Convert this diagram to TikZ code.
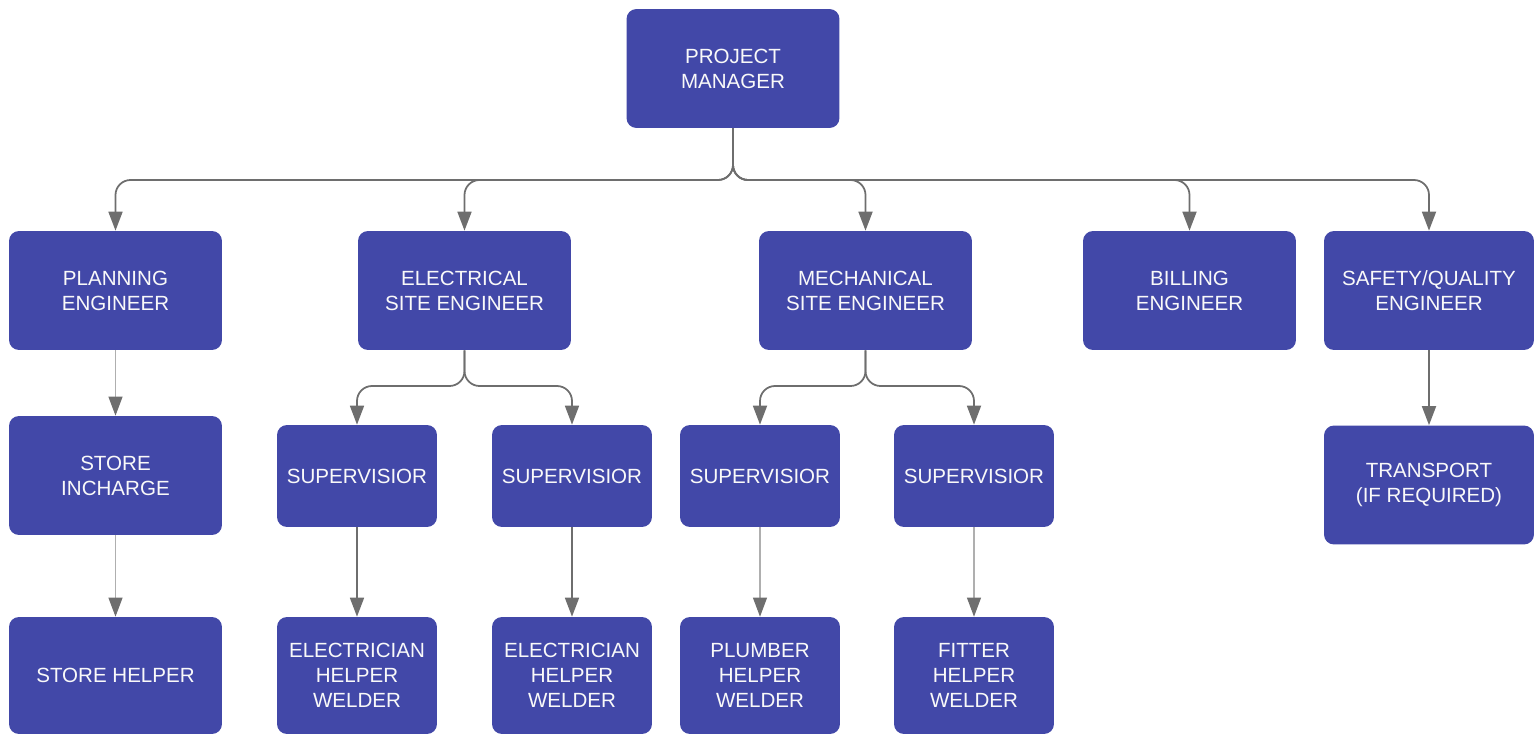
\documentclass[tikz,border=0pt]{standalone}
\usepackage{fontspec}
\setmainfont{Liberation Sans}
\usepackage{tikz}
\usetikzlibrary{positioning, arrows.meta}
\definecolor{boxblue}{RGB}{66,72,168}
\definecolor{linegray}{RGB}{110,110,110}
\tikzset{
        >={Triangle[width=0.28cm,length=0.38cm,color=linegray]}, % filled arrow heads
        post/.style={rectangle, rounded corners=0.2cm, fill=boxblue, text=white!95!gray,
                     align=center, inner sep=0pt, font=\fontsize{11.7}{14.2}\selectfont}, % every box
        role/.style={post, minimum width=4.26cm, minimum height=2.38cm}, % engineers
        super/.style={post, minimum width=3.2cm, minimum height=2.04cm}, % supervisors
        crew/.style={post, minimum width=3.2cm, minimum height=2.34cm}, % workers
        link/.style={->, draw=linegray, line width=1pt, rounded corners=0.3cm}, % connectors
        thinlink/.style={link, draw=linegray!55, line width=0.6pt}, % the lighter ones
}

\begin{document}
\begin{tikzpicture}[x=0.02cm, y=-0.02cm]
      \useasboundingbox (0,0) rectangle (1535,734);
      % top
      \node[role] (pm) at (733,68.5) {PROJECT\\MANAGER};
      % engineers
      \node[role] (plan) at (115.5,290.5) {PLANNING\\ENGINEER};
      \node[role] (elec) at (464.5,290.5) {ELECTRICAL\\SITE ENGINEER};
      \node[role] (mech) at (865.5,290.5) {MECHANICAL\\SITE ENGINEER};
      \node[role] (bill) at (1189.5,290.5) {BILLING\\ENGINEER};
      \node[role, minimum width=4.2cm] (safe) at (1429,290.5) {SAFETY/QUALITY\\ENGINEER};
      % third row
      \node[role] (store) at (115.5,475.5) {STORE\\INCHARGE};
      \node[super] (sup1) at (357,476) {SUPERVISIOR};
      \node[super] (sup2) at (572,476) {SUPERVISIOR};
      \node[super] (sup3) at (760,476) {SUPERVISIOR};
      \node[super] (sup4) at (974,476) {SUPERVISIOR};
      \node[role, minimum width=4.2cm] (trans) at (1429,485) {TRANSPORT\\(IF REQUIRED)};
      % bottom row
      \node[role, minimum height=2.34cm] (helper) at (115.5,675.5) {STORE HELPER};
      \node[crew] (crew1) at (357,675.5) {ELECTRICIAN\\HELPER\\WELDER};
      \node[crew] (crew2) at (572,675.5) {ELECTRICIAN\\HELPER\\WELDER};
      \node[crew] (crew3) at (760,675.5) {PLUMBER\\HELPER\\WELDER};
      \node[crew] (crew4) at (974,675.5) {FITTER\\HELPER\\WELDER};

      \coordinate (hub) at (733,180);
      \coordinate (ehub) at (464.5,386);
      \coordinate (mhub) at (865.5,386);

      \foreach \n in {plan, elec, mech, bill, safe}
         \draw[link] (pm.south) -- (hub) -| (\n.north);
      \foreach \n in {sup1, sup2}
         \draw[link] (elec.south) -- (ehub) -| (\n.north);
      \foreach \n in {sup3, sup4}
         \draw[link] (mech.south) -- (mhub) -| (\n.north);

      \draw[thinlink] (plan) -- (store);
      \draw[thinlink] (store) -- (helper);
      \draw[link] (sup1) -- (crew1);
      \draw[link] (sup2) -- (crew2);
      \draw[thinlink] (sup3) -- (crew3);
      \draw[thinlink] (sup4) -- (crew4);
      \draw[link] (safe) -- (trans);
    \end{tikzpicture}
\end{document}
